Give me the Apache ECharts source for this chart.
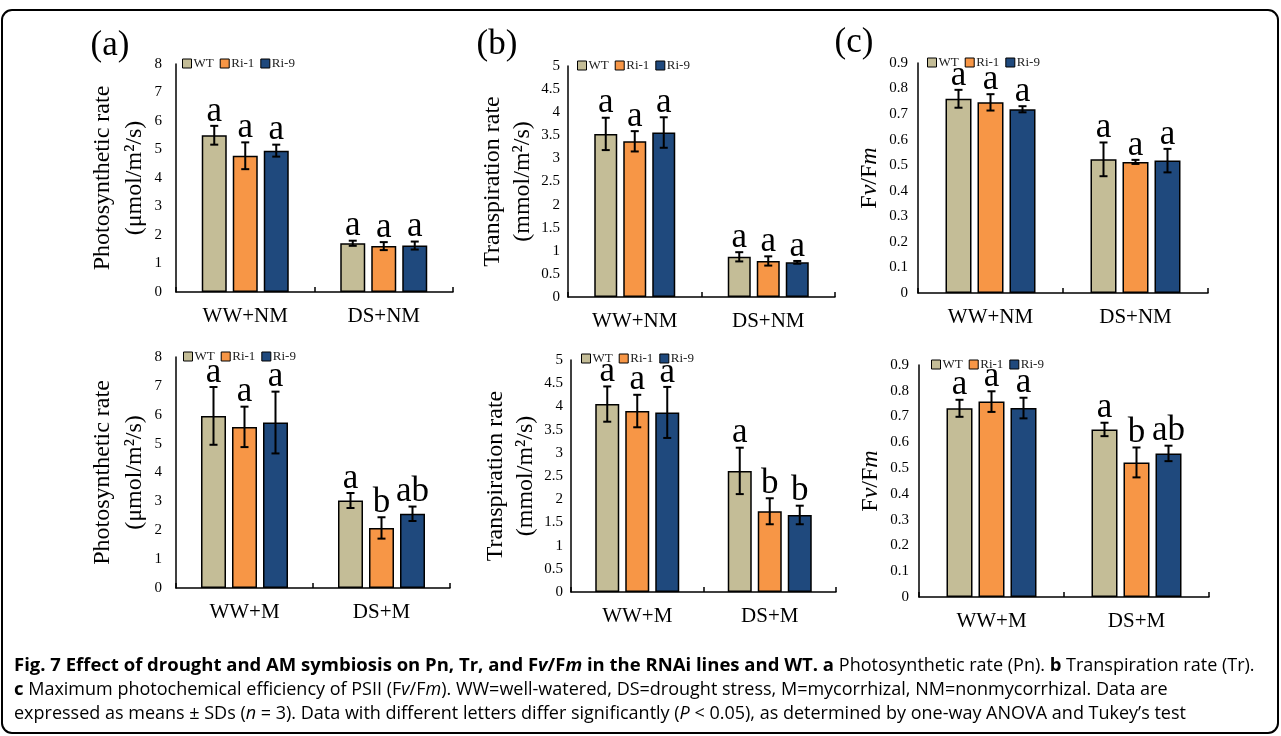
<!DOCTYPE html>
<html>
<head>
<meta charset="utf-8">
<script src="https://cdn.jsdelivr.net/npm/echarts@6/dist/echarts.min.js"></script>
<style>
html,body{margin:0;padding:0;background:#fff;}
#chart{width:1281px;height:736px;}
</style>
</head>
<body>
<div id="chart"></div>
<script>
// ---------- DATA ----------
const lineNames = ['WT', 'Ri-1', 'Ri-9'];
const catsNM = ['WW+NM', 'DS+NM'];
const catsM = ['WW+M', 'DS+M'];

// values per category: [WT, Ri-1, Ri-9]
const pnNM_mean = [[5.50, 4.78, 4.96], [1.71, 1.61, 1.63]];
const pnNM_sd   = [[0.33, 0.47, 0.21], [0.09, 0.14, 0.14]];
const pnNM_sig  = [['a', 'a', 'a'], ['a', 'a', 'a']];

const trNM_mean = [[3.53, 3.37, 3.56], [0.87, 0.78, 0.75]];
const trNM_sd   = [[0.35, 0.22, 0.33], [0.10, 0.10, 0.03]];
const trNM_sig  = [['a', 'a', 'a'], ['a', 'a', 'a']];

const fvNM_mean = [[0.760, 0.746, 0.719], [0.523, 0.513, 0.518]];
const fvNM_sd   = [[0.035, 0.032, 0.012], [0.066, 0.008, 0.046]];
const fvNM_sig  = [['a', 'a', 'a'], ['a', 'a', 'a']];

const pnM_mean = [[5.96, 5.58, 5.73], [3.03, 2.08, 2.57]];
const pnM_sd   = [[1.00, 0.70, 1.07], [0.26, 0.37, 0.25]];
const pnM_sig  = [['a', 'a', 'a'], ['a', 'b', 'ab']];

const trM_mean = [[4.05, 3.90, 3.87], [2.61, 1.74, 1.66]];
const trM_sd   = [[0.38, 0.35, 0.55], [0.50, 0.28, 0.20]];
const trM_sig  = [['a', 'a', 'a'], ['a', 'b', 'b']];

const fvM_mean = [[0.732, 0.758, 0.733], [0.650, 0.522, 0.557]];
const fvM_sd   = [[0.033, 0.040, 0.040], [0.026, 0.058, 0.030]];
const fvM_sig  = [['a', 'a', 'a'], ['a', 'b', 'ab']];

// ---------- STYLE / LAYOUT ----------
const colors = ['#C4BD97', '#F79646', '#1F497D'];
const SERIF = '"Liberation Serif", "Times New Roman", serif';

const panels = [
  {cats: catsNM, mean: pnNM_mean, sd: pnNM_sd, sig: pnNM_sig, max: 8, interval: 1,
   grid: {left: 176, top: 64, width: 277, height: 228}, bw: 25, gap: 6,
   name: 'Photosynthetic rate\n(μmol/m²/s)', nameGap: 16, nameLH: 32, labelMargin: 14,
   legend: {left: 182, top: 57}},
  {cats: catsNM, mean: trNM_mean, sd: trNM_sd, sig: trNM_sig, max: 5, interval: 0.5,
   grid: {left: 568, top: 66, width: 267, height: 231}, bw: 23, gap: 6,
   name: 'Transpiration rate\n(mmol/m²/s)', nameGap: 28, nameLH: 30, labelMargin: 8,
   legend: {left: 577, top: 59}},
  {cats: catsNM, mean: fvNM_mean, sd: fvNM_sd, sig: fvNM_sig, max: 0.9, interval: 0.1,
   grid: {left: 918, top: 63, width: 290, height: 230}, bw: 26, gap: 6,
   name: '{n|F}{i|v}{n|/F}{i|m}', nameGap: 33, nameLH: 30, labelMargin: 10,
   legend: {left: 927, top: 56}},
  {cats: catsM, mean: pnM_mean, sd: pnM_sd, sig: pnM_sig, max: 8, interval: 1,
   grid: {left: 176, top: 357, width: 274, height: 231}, bw: 25, gap: 6,
   name: 'Photosynthetic rate\n(μmol/m²/s)', nameGap: 16, nameLH: 32, labelMargin: 14,
   legend: {left: 183, top: 350}},
  {cats: catsM, mean: trM_mean, sd: trM_sd, sig: trM_sig, max: 5, interval: 0.5,
   grid: {left: 571, top: 360, width: 265, height: 232}, bw: 24, gap: 6,
   name: 'Transpiration rate\n(mmol/m²/s)', nameGap: 28, nameLH: 30, labelMargin: 8,
   legend: {left: 581, top: 352}},
  {cats: catsM, mean: fvM_mean, sd: fvM_sd, sig: fvM_sig, max: 0.9, interval: 0.1,
   grid: {left: 919, top: 365, width: 290, height: 232}, bw: 26, gap: 6,
   name: '{n|F}{i|v}{n|/F}{i|m}', nameGap: 33, nameLH: 30, labelMargin: 10,
   legend: {left: 931, top: 358}}
];

const grids = [], xAxes = [], yAxes = [], series = [], legends = [];

panels.forEach((p, pi) => {
  grids.push(Object.assign({containLabel: false}, p.grid));
  xAxes.push({
    type: 'category', gridIndex: pi, data: p.cats,
    axisLine: {lineStyle: {color: '#000', width: 1.5}},
    axisTick: {show: true, inside: true, length: 5, lineStyle: {color: '#000', width: 1.5}},
    axisLabel: {color: '#000', fontFamily: SERIF, fontSize: 21, margin: 14},
    splitLine: {show: false}
  });
  yAxes.push({
    type: 'value', gridIndex: pi, min: 0, max: p.max, interval: p.interval,
    axisLine: {show: true, lineStyle: {color: '#000', width: 1.5}},
    axisTick: {show: false},
    splitLine: {show: false},
    axisLabel: {color: '#000', fontFamily: SERIF, fontSize: 15, margin: p.labelMargin},
    name: p.name, nameLocation: 'middle', nameGap: p.nameGap,
    nameTextStyle: {
      color: '#000', fontFamily: SERIF, fontSize: 24, lineHeight: p.nameLH, align: 'center',
      rich: {
        n: {fontFamily: SERIF, fontSize: 24, color: '#000'},
        i: {fontFamily: SERIF, fontSize: 24, fontStyle: 'italic', color: '#000'}
      }
    }
  });
  legends.push({
    data: lineNames, left: p.legend.left, top: p.legend.top, orient: 'horizontal',
    icon: 'rect', itemWidth: 9, itemHeight: 9, itemGap: 6, padding: 0,
    selectedMode: false,
    textStyle: {fontFamily: SERIF, fontSize: 13, color: '#222', padding: [0, 0, 0, -3]},
    itemStyle: {borderColor: '#000', borderWidth: 1}
  });
  lineNames.forEach((ln, li) => {
    series.push({
      name: ln, type: 'bar', xAxisIndex: pi, yAxisIndex: pi,
      data: p.mean.map(row => row[li]),
      barWidth: p.bw, barGap: (p.gap / p.bw * 100) + '%',
      itemStyle: {color: colors[li], borderColor: '#000', borderWidth: 1.5},
      emphasis: {disabled: true},
      animation: false
    });
  });
  const errData = [], letters = [];
  p.mean.forEach((row, ci) => row.forEach((m, li) => {
    errData.push([ci, m, p.sd[ci][li], li]);
    letters.push(p.sig[ci][li]);
  }));
  series.push({
    type: 'custom', xAxisIndex: pi, yAxisIndex: pi, z: 10, clip: false,
    data: errData, encode: {x: 0, y: 1}, animation: false, silent: true,
    renderItem: function (params, api) {
      const ci = api.value(0), m = api.value(1), sd = api.value(2), li = api.value(3);
      const c = api.coord([ci, m]);
      const x = c[0] + (li - 1) * (p.bw + p.gap);
      const top = api.coord([ci, m + sd])[1];
      const bot = api.coord([ci, m - sd])[1];
      const cap = 4;
      const ls = {stroke: '#000', lineWidth: 2};
      return {
        type: 'group',
        children: [
          {type: 'line', shape: {x1: x, y1: top, x2: x, y2: bot}, style: ls},
          {type: 'line', shape: {x1: x - cap, y1: top, x2: x + cap, y2: top}, style: ls},
          {type: 'line', shape: {x1: x - cap, y1: bot, x2: x + cap, y2: bot}, style: ls},
          {type: 'text', style: {text: letters[params.dataIndex], x: x, y: top + 3,
            align: 'center', verticalAlign: 'bottom',
            font: '35px ' + SERIF, fill: '#000'}}
        ]
      };
    }
  });
});

const SANS = '"Open Sans", "Noto Sans", sans-serif';
const capRich = {
  b: {fontFamily: SANS, fontSize: 18.5, fontWeight: 'bold', color: '#111'},
  bi: {fontFamily: SANS, fontSize: 18.5, fontWeight: 'bold', fontStyle: 'italic', color: '#111'},
  n: {fontFamily: SANS, fontSize: 18, color: '#111'},
  i: {fontFamily: SANS, fontSize: 18, fontStyle: 'italic', color: '#111'}
};
const capLines = [
  '{b|Fig. 7 Effect of drought and AM symbiosis on Pn, Tr, and F}{bi|v}{b|/F}{bi|m}{b| in the RNAi lines and WT. a }{n|Photosynthetic rate (Pn). }{b|b}{n| Transpiration rate (Tr).}',
  '{b|c}{n| Maximum photochemical efficiency of PSII (F}{i|v}{n|/F}{i|m}{n|). WW=well-watered, DS=drought stress, M=mycorrhizal, NM=nonmycorrhizal. Data are}',
  '{n|expressed as means ± SDs (}{i|n}{n| = 3). Data with different letters differ significantly (}{i|P}{n| < 0.05), as determined by one-way ANOVA and Tukey’s test}'
];

const graphics = [
  {type: 'rect', shape: {x: 2, y: 10, width: 1276, height: 723, r: 10},
   style: {fill: 'none', stroke: '#000', lineWidth: 2}, silent: true},
  {type: 'text', style: {text: '(a)', x: 110, y: 46, align: 'center', verticalAlign: 'middle', font: '35px ' + SERIF, fill: '#000'}},
  {type: 'text', style: {text: '(b)', x: 497, y: 45, align: 'center', verticalAlign: 'middle', font: '35px ' + SERIF, fill: '#000'}},
  {type: 'text', style: {text: '(c)', x: 854, y: 43, align: 'center', verticalAlign: 'middle', font: '35px ' + SERIF, fill: '#000'}}
];
capLines.forEach((t, i) => {
  graphics.push({type: 'text', style: {text: t, rich: capRich, x: 14, y: 666 + i * 24,
    align: 'left', verticalAlign: 'middle'}});
});

const chart = echarts.init(document.getElementById('chart'), null, {renderer: 'canvas'});
chart.setOption({
  backgroundColor: '#fff',
  animation: false,
  grid: grids, xAxis: xAxes, yAxis: yAxes, legend: legends, series: series,
  graphic: graphics
});
</script>
</body>
</html>
